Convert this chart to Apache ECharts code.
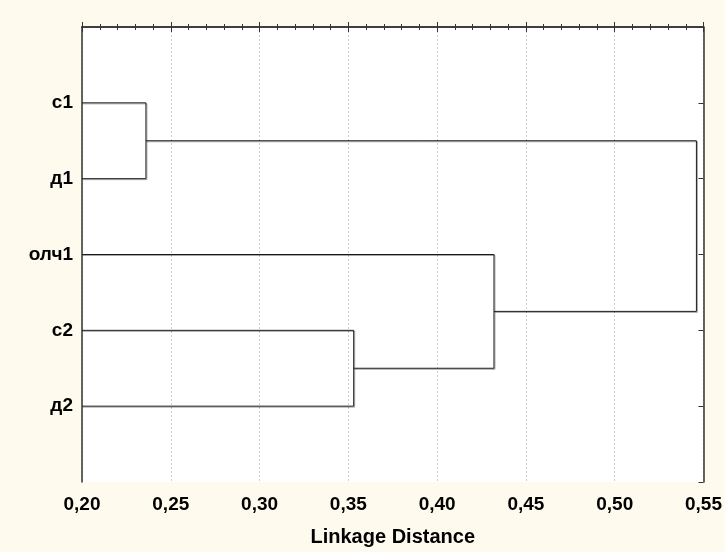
<!DOCTYPE html>
<html><head><meta charset="utf-8">
<script src="https://cdn.jsdelivr.net/npm/echarts@6/dist/echarts.min.js"></script>
<style>html,body{margin:0;padding:0;background:#fffaee;}#c{width:725px;height:552px;}</style>
</head><body><div id="c"></div>
<script>
// leaf labels, top to bottom
const leafLabels = ['с1', 'д1', 'олч1', 'с2', 'д2'];
// merge steps: the two joined nodes (leaf index, or 'mK' = result of merge K) and linkage distance
const mergeLeft = [0, 3, 2, 'm0'];
const mergeRight = [1, 4, 'm1', 'm2'];
const mergeDistance = [0.236, 0.353, 0.432, 0.546];
const xTicks = [0.20, 0.25, 0.30, 0.35, 0.40, 0.45, 0.50, 0.55];
const leafDistance = 0.20;

const nodes = {};
leafLabels.forEach((l, i) => { nodes[i] = { y: i + 1, h: leafDistance }; });
const series = [];
mergeDistance.forEach((d, k) => {
  const a = nodes[mergeLeft[k]], b = nodes[mergeRight[k]];
  series.push({
    type: 'line', xAxisIndex: 0, yAxisIndex: 0, symbol: 'none', silent: true,
    lineStyle: { color: '#1a1a1a', width: 1, shadowColor: 'rgba(0,0,0,0.35)', shadowOffsetX: 1, shadowOffsetY: 1, shadowBlur: 0 },
    data: [[a.h, a.y], [d, a.y], [d, b.y], [b.h, b.y]],
    animation: false
  });
  nodes['m' + k] = { y: (a.y + b.y) / 2, h: d };
});

const fmt = v => v.toFixed(2).replace('.', ',');
const font = '"Liberation Sans", Arial, sans-serif';
const xCommon = {
  type: 'value', min: xTicks[0], max: xTicks[xTicks.length - 1], interval: 0.05,
  axisLine: { show: true, lineStyle: { color: '#333', width: 1.5 } },
  axisTick: { show: true, inside: true, length: 5, lineStyle: { color: '#333' } },
  minorTick: { show: true, splitNumber: 5, length: 3, lineStyle: { color: '#333' } },
};
const chart = echarts.init(document.getElementById('c'));
chart.setOption({
  backgroundColor: '#fffaee',
  animation: false,
  grid: { left: 82, right: 18, top: 27, bottom: 67, show: true, backgroundColor: '#ffffff', borderWidth: 0 },
  xAxis: [
    Object.assign({}, xCommon, {
      position: 'bottom',
      axisLabel: { formatter: fmt, color: '#000', fontFamily: font, fontWeight: 'bold', fontSize: 19, margin: 13 },
      splitLine: { show: true, lineStyle: { color: '#cfcfcf', type: [2, 2], width: 1 } },
      name: 'Linkage Distance', nameLocation: 'middle', nameGap: 45,
      nameTextStyle: { color: '#000', fontFamily: font, fontWeight: 'bold', fontSize: 20 }
    }),
    Object.assign({}, xCommon, {
      position: 'top', axisLabel: { show: false }, splitLine: { show: false }
    })
  ],
  yAxis: [
    {
      type: 'value', min: 0, max: leafLabels.length + 1, interval: 1, inverse: true, position: 'left',
      axisLine: { show: true, lineStyle: { color: '#333', width: 1.5 } },
      axisTick: { show: false },
      splitLine: { show: false },
      axisLabel: {
        color: '#000', fontFamily: font, fontWeight: 'bold', fontSize: 19, margin: 9,
        formatter: v => (v >= 1 && v <= leafLabels.length) ? leafLabels[v - 1] : ''
      }
    },
    {
      type: 'value', min: 0, max: leafLabels.length + 1, interval: 1, inverse: true, position: 'right',
      axisLine: { show: true, lineStyle: { color: '#333', width: 1.5 } },
      axisTick: { show: true, inside: true, length: 5, lineStyle: { color: '#333' } },
      splitLine: { show: false }, axisLabel: { show: false }
    }
  ],
  series: series
});
</script></body></html>
